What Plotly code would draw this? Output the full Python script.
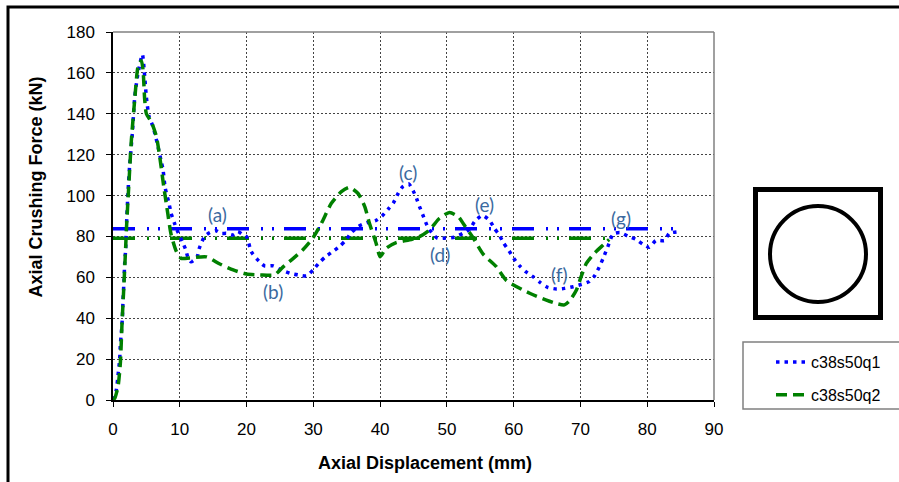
import plotly.graph_objects as go

# ---- data ----
q1_x = [0.0, 0.5, 0.75, 1.0, 1.1, 1.25, 1.4, 1.5, 1.65, 1.75, 1.9, 2.0, 2.25, 2.5, 2.9, 3.25, 3.7, 4.4,
        4.75, 5.0, 5.4, 6.0, 6.6, 7.2, 7.5, 7.8, 8.4, 8.7, 9.2, 9.6, 10.4, 10.9, 11.2, 11.7, 12.6, 12.9,
        13.7, 14.5, 15.4, 16.2, 17.0, 17.9, 18.7, 19.5, 20.0, 20.7, 21.6, 22.7, 24.0, 25.2, 26.5, 27.7,
        29.0, 30.0, 30.9, 31.8, 32.9, 34.0, 34.9, 35.7, 36.8, 38.0, 39.3, 40.3, 41.2, 42.0, 42.7, 43.4,
        44.3, 45.0, 45.5, 45.9, 46.4, 47.0, 47.7, 48.6, 49.8, 51.1, 52.4, 53.4, 54.2, 55.3, 56.4, 57.1,
        57.9, 58.5, 59.3, 60.0, 60.9, 61.8, 62.9, 64.0, 65.1, 66.4, 67.6, 68.9, 70.1, 71.3, 72.1, 72.8,
        73.4, 74.1, 74.9, 75.9, 77.1, 78.3, 79.3, 80.3, 81.3, 82.6, 83.3, 84.6]
q1_y = [0, 5, 12, 20, 27, 33, 40, 49, 58.7, 67, 74, 84, 102, 115, 130.5, 148, 159, 169,
        158, 148, 138.6, 133.7, 125.9, 117, 112.5, 104, 96, 91.3, 86.5, 83, 77.4, 73.4, 70, 67.6, 70, 74,
        79.9, 81.9, 82.8, 81.5, 81.5, 80.7, 82.4, 80.7, 79.9, 72.6, 68.8, 65.6, 65.6, 63.6, 62, 61.2,
        60.7, 63.8, 67.2, 70, 72.6, 75.3, 78.3, 81.9, 85, 86.7, 87.7, 90, 93.3, 96.5, 101, 104.4,
        105.7, 102, 98.2, 94.6, 90.5, 85.6, 81.9, 79.1, 79.2, 79.6, 81.5, 83.5, 87.5, 90.3, 87.8, 84,
        80.4, 76.7, 73, 69.3, 65.6, 62.8, 60.3, 57.4, 55.1, 54.3, 54.6, 55.4, 56.5, 57.9, 60.7, 64.9,
        69.3, 75, 81.2, 81.9, 80.2, 78.6, 76.3, 74.7, 78, 78, 81.5, 82.3]

q2_x = [0.0, 0.25, 0.75, 1.1, 1.35, 1.6, 1.9, 2.0, 2.35, 2.75, 3.25, 3.75, 4.25, 4.5, 4.75, 5.0, 5.75,
        6.5, 7.0, 7.6, 8.2, 8.7, 9.5, 10.2, 11.5, 14.0, 16.0, 18.0, 20.0, 22.0, 24.2, 25.4, 27.0, 28.4,
        29.9, 31.2, 32.7, 34.2, 35.4, 36.7, 37.7, 38.4, 39.4, 40.0, 40.9, 42.4, 44.4, 45.9, 47.4, 48.9,
        50.4, 51.7, 52.6, 53.9, 55.4, 57.4, 58.9, 62.4, 64.9, 66.6, 67.6, 68.4, 69.4, 70.1, 70.9, 72.1,
        73.4, 74.3]
q2_y = [0, 0.8, 6.5, 18, 37.5, 53.8, 75, 83, 104, 127, 146.8, 163, 166, 161.4, 146.8, 140, 136,
        128.8, 119, 104.4, 91.3, 81, 72.6, 69.3, 69.5, 70, 66.5, 63.6, 61.6, 61.2, 61.2, 64.9, 69.3, 73.4,
        79.1, 86.4, 96.2, 101.9, 104, 101, 94.6, 86.4, 76.7, 70.1, 74.2, 77, 78.3, 79.9, 83.2, 88.9,
        91.7, 89.7, 85.6, 79.5, 71.5, 65.2, 58.5, 52.2, 48.9, 47, 46.5, 48.6, 53.8, 60.3, 66.9, 71.8,
        75.8, 78.5]

q1_mean = 83.8
q1_mean_x = [0, 84.8]
q2_mean = 79.1
q2_mean_x = [0, 74.5]

labels = ["(a)", "(b)", "(c)", "(d)", "(e)", "(f)", "(g)"]
label_x = [15.7, 24.0, 44.2, 48.9, 55.6, 66.9, 76.1]
label_y = [90.5, 53.0, 111.2, 71.0, 95.4, 61.2, 88.9]

x_ticks = [0, 10, 20, 30, 40, 50, 60, 70, 80, 90]
y_ticks = [0, 20, 40, 60, 80, 100, 120, 140, 160, 180]

x_title = "Axial Displacement (mm)"
y_title = "Axial Crushing Force (kN)"

BLUE = "#0000FF"
GREEN = "#008000"

# ---- layout geometry (pixels) ----
W, H = 899, 482
L, R, T, B = 113, 185, 32, 82
PW, PH = W - L - R, H - T - B


def px(p):
    return (p - L) / PW


def py(p):
    return (H - B - p) / PH


fig = go.Figure()

fig.add_trace(go.Scatter(x=q1_mean_x, y=[q1_mean] * 2, mode="lines", showlegend=False,
                         line=dict(color=BLUE, width=3.5, dash="22px,12px,2px,9px,2px,10px")))
fig.add_trace(go.Scatter(x=q2_mean_x, y=[q2_mean] * 2, mode="lines", showlegend=False,
                         line=dict(color=GREEN, width=3.5, dash="22px,12px,2px,9px,2px,10px")))
fig.add_trace(go.Scatter(x=q1_x, y=q1_y, mode="lines", name="c38s50q1", legendgroup="a",
                         line=dict(color=BLUE, width=3.5, dash="3.5px,5px", shape="spline", smoothing=0.6)))
fig.add_trace(go.Scatter(x=q2_x, y=q2_y, mode="lines", name="c38s50q2", legendgroup="b",
                         line=dict(color=GREEN, width=3.5, dash="11px,6px", shape="spline", smoothing=0.6)))

for t, xv, yv in zip(labels, label_x, label_y):
    fig.add_annotation(x=xv, y=yv, text=t, showarrow=False,
                       font=dict(family="Lato", size=19, color="#3B6AA0"))

title_font = dict(family="Liberation Sans", size=18, color="black", weight="bold")
fig.add_annotation(xref="paper", yref="paper", x=px(424.5), y=py(463), text=x_title,
                   showarrow=False, xanchor="center", yanchor="middle", font=title_font)
fig.add_annotation(xref="paper", yref="paper", x=px(35), y=py(187.5), text=y_title, textangle=-90,
                   showarrow=False, xanchor="center", yanchor="middle", font=title_font)

shapes = [
    # outer frame
    dict(type="rect", xref="paper", yref="paper", x0=px(8), x1=px(930), y0=py(7), y1=py(520),
         line=dict(color="black", width=3)),
    # plot area top / right border
    dict(type="line", xref="paper", yref="paper", x0=0, x1=1, y0=1, y1=1,
         line=dict(color="#808080", width=1.5)),
    dict(type="line", xref="paper", yref="paper", x0=1, x1=1, y0=0, y1=1,
         line=dict(color="#808080", width=1.5)),
    # cross-section square and circle
    dict(type="rect", xref="paper", yref="paper", x0=px(755.5), x1=px(880.5), y0=py(189.5), y1=py(317.5),
         line=dict(color="black", width=5)),
    dict(type="circle", xref="paper", yref="paper", x0=px(770), x1=px(866), y0=py(206), y1=py(302),
         line=dict(color="black", width=4)),
    # legend box
    dict(type="rect", xref="paper", yref="paper", x0=px(743), x1=px(930), y0=py(342), y1=py(409),
         line=dict(color="#808080", width=1.5)),
]

axis_common = dict(showline=True, linecolor="black", linewidth=1.5, ticks="outside", ticklen=5,
                   tickcolor="black", showgrid=True, gridcolor="#444444", gridwidth=1, griddash="2px,2px",
                   zeroline=False, automargin=False,
                   tickfont=dict(family="Liberation Sans", size=17, color="black"))

fig.update_layout(
    width=W, height=H,
    margin=dict(l=L, r=R, t=T, b=B, pad=0, autoexpand=False),
    paper_bgcolor="white", plot_bgcolor="white",
    shapes=shapes,
    showlegend=True,
    legend=dict(x=px(771), y=py(345), xanchor="left", yanchor="top",
                bgcolor="rgba(0,0,0,0)", borderwidth=0, tracegroupgap=9,
                font=dict(family="Liberation Sans", size=16, color="black")),
    xaxis=dict(range=[0, 90], tickvals=x_ticks, ticklabelstandoff=8, **axis_common),
    yaxis=dict(range=[0, 180], tickvals=y_ticks, ticklabelstandoff=8, **axis_common),
)

fig.write_html("out.html")
